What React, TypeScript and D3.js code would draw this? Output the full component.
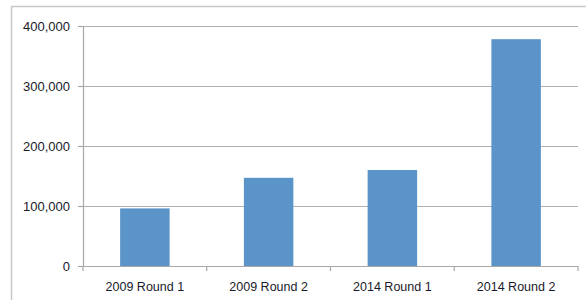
import { useEffect, useRef } from 'react';
import * as d3 from 'd3';

const categories = ['2009 Round 1', '2009 Round 2', '2014 Round 1', '2014 Round 2'];
const values = [96000, 147000, 160000, 378000];
const yTicks = [0, 100000, 200000, 300000, 400000];

export default function App() {
  const svgRef = useRef<SVGSVGElement>(null);

  useEffect(() => {
    if (!svgRef.current) return;
    document.body.style.margin = '0';
    const width = 586;
    const height = 300;
    const margin = { top: 26, right: 8, bottom: 34, left: 83 };
    const innerWidth = width - margin.left - margin.right;
    const innerHeight = height - margin.top - margin.bottom;

    const svg = d3.select(svgRef.current);
    svg.selectAll('*').remove();

    // Outer chart border (runs off right/bottom edge like the original)
    svg.append('rect')
      .attr('x', 11.5)
      .attr('y', 6.5)
      .attr('width', 600)
      .attr('height', 320)
      .attr('fill', 'white')
      .attr('stroke', '#c8c8c8')
      .attr('stroke-width', 1.5);

    const g = svg.append('g')
      .attr('transform', `translate(${margin.left},${margin.top})`);

    const x = d3.scaleBand<string>()
      .domain(categories)
      .range([0, innerWidth])
      .paddingInner(0.6)
      .paddingOuter(0.3);

    const xTicks = d3.scaleBand<string>()
      .domain(categories)
      .range([0, innerWidth]);

    const y = d3.scaleLinear()
      .domain([0, 400000])
      .range([innerHeight, 0]);

    // Grid lines
    g.selectAll('.grid')
      .data(yTicks.slice(1))
      .join('line')
      .attr('class', 'grid')
      .attr('x1', 0)
      .attr('x2', innerWidth)
      .attr('y1', d => Math.round(y(d)) + 0.5)
      .attr('y2', d => Math.round(y(d)) + 0.5)
      .attr('stroke', '#b0b0b0')
      .attr('stroke-width', 1.2);

    // Bars
    g.selectAll('.bar')
      .data(values)
      .join('rect')
      .attr('class', 'bar')
      .attr('x', (_, i) => x(categories[i])!)
      .attr('y', d => y(d))
      .attr('width', x.bandwidth())
      .attr('height', d => innerHeight - y(d))
      .attr('fill', '#5a94c8');

    // Y axis
    const yAxis = g.append('g')
      .call(d3.axisLeft(y).tickValues(yTicks).tickSize(5).tickPadding(8).tickFormat(d3.format(',')));
    yAxis.select('.domain').attr('stroke', '#a8a8a8').attr('stroke-width', 1.2);
    yAxis.selectAll('.tick line').attr('stroke', '#a8a8a8').attr('stroke-width', 1.2);
    yAxis.selectAll('text')
      .style('font-family', '"Liberation Sans", Arial, sans-serif')
      .style('font-size', '13px')
      .attr('fill', '#1a1a2a');

    // X axis line
    const xAxis = g.append('g').attr('transform', `translate(0,${innerHeight})`);
    xAxis.append('line')
      .attr('x1', 0)
      .attr('x2', innerWidth)
      .attr('y1', 0.5)
      .attr('y2', 0.5)
      .attr('stroke', '#a8a8a8')
      .attr('stroke-width', 1.2);
    const boundaries = [0, ...categories.map(c => xTicks(c)! + xTicks.bandwidth())];
    xAxis.selectAll('.xtick')
      .data(boundaries)
      .join('line')
      .attr('class', 'xtick')
      .attr('x1', d => d)
      .attr('x2', d => d)
      .attr('y1', 0)
      .attr('y2', 5)
      .attr('stroke', '#a8a8a8')
      .attr('stroke-width', 1.2);
    xAxis.selectAll('.xlabel')
      .data(categories)
      .join('text')
      .attr('class', 'xlabel')
      .attr('x', d => xTicks(d)! + xTicks.bandwidth() / 2)
      .attr('y', 21)
      .attr('dy', '0.35em')
      .attr('text-anchor', 'middle')
      .style('font-family', '"Liberation Sans", Arial, sans-serif')
      .style('font-size', '12.5px')
      .attr('fill', '#1a1a2a')
      .text(d => d);
  }, []);

  return <svg ref={svgRef} width={586} height={300} style={{ display: 'block' }} />;
}
